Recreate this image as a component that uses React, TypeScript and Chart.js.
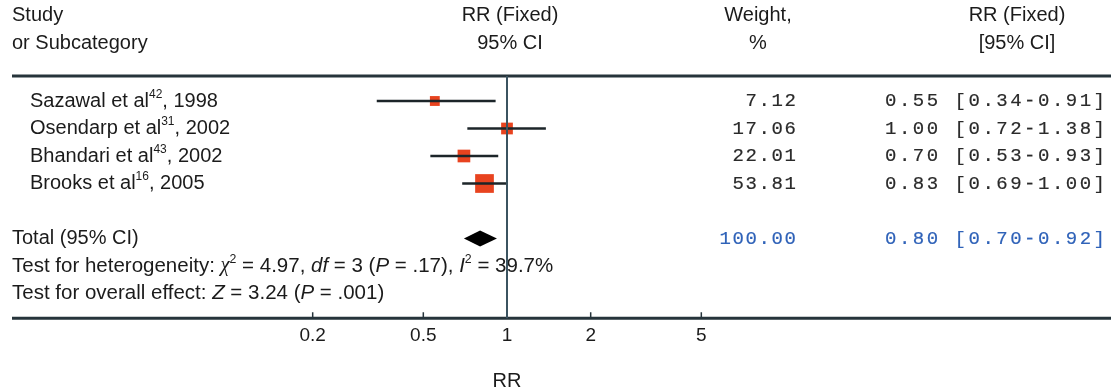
import React, { useEffect, useRef } from 'react';
import { Chart, registerables } from 'chart.js';

Chart.register(...registerables);

// ---- data ----
const studyNames = ['Sazawal et al', 'Osendarp et al', 'Bhandari et al', 'Brooks et al'];
const studyRefs = ['42', '31', '43', '16'];
const studyYears = ['1998', '2002', '2002', '2005'];
const rrValues = [0.55, 1.0, 0.7, 0.83];
const ciLower = [0.34, 0.72, 0.53, 0.69];
const ciUpper = [0.91, 1.38, 0.93, 1.0];
const weights = [7.12, 17.06, 22.01, 53.81];
const totalRR = [0.8];
const totalLower = [0.7];
const totalUpper = [0.92];
const totalWeight = [100.0];
const xTicks = [0.2, 0.5, 1, 2, 5];
const xTickLabels = ['0.2', '0.5', '1', '2', '5'];

// ---- layout (rows in y-scale units) ----
const ROW_TOTAL = 5;
const ROW_HET = 6;
const ROW_OVERALL = 7;
const ROW_AXIS = 7.9;
const ROW_TICKLBL = 8.55;
const ROW_TITLE = 10.2;
const ROW_HEAD1 = -3.1;
const ROW_HEAD2 = -2.08;
const ROW_TOPLINE = -0.91;
const LEFT = 12;

const SANS = '"Liberation Sans", Arial, Helvetica, sans-serif';
const MONO = '"Liberation Mono", "Courier New", monospace';
const TEXT = '#1b1b1b';
const LINE = '#26343b';
const BLUE = '#2f62b8';
const RED = '#e8431f';

type Run = { t: string; it?: boolean; sup?: boolean; fam?: string };

function drawRuns(ctx: CanvasRenderingContext2D, runs: Run[], x: number, y: number, size: number) {
  let cx = x;
  for (const r of runs) {
    const s = r.sup ? size * 0.6 : size;
    ctx.font = `${r.it ? 'italic ' : ''}${s}px ${r.fam || SANS}`;
    const dy = r.sup ? -size * 0.33 : 0;
    ctx.fillText(r.t, cx, y + dy);
    cx += ctx.measureText(r.t).width;
  }
}

function monoRight(ctx: any, text: string, xRight: number, y: number, size: number, ls: number, color: string) {
  ctx.font = `${size}px ${MONO}`;
  ctx.letterSpacing = `${ls}px`;
  ctx.fillStyle = color;
  ctx.strokeStyle = color;
  ctx.lineWidth = 0.2;
  ctx.fillText(text, xRight + ls, y);
  ctx.strokeText(text, xRight + ls, y);
  ctx.letterSpacing = '0px';
}

const forestPlugin = {
  id: 'forestText',
  beforeDatasetsDraw(chart: any) {
    const { ctx, scales } = chart;
    const xs = scales.x;
    const ys = scales.y;
    ctx.save();
    ctx.fillStyle = TEXT;
    ctx.textBaseline = 'middle';
    // headers
    ctx.font = `20px ${SANS}`;
    ctx.textAlign = 'left';
    ctx.fillText('Study', LEFT, ys.getPixelForValue(ROW_HEAD1));
    ctx.fillText('or Subcategory', LEFT, ys.getPixelForValue(ROW_HEAD2));
    ctx.textAlign = 'center';
    ctx.fillText('RR (Fixed)', 510, ys.getPixelForValue(ROW_HEAD1));
    ctx.fillText('95% CI', 510, ys.getPixelForValue(ROW_HEAD2));
    ctx.fillText('Weight,', 758, ys.getPixelForValue(ROW_HEAD1));
    ctx.fillText('%', 758, ys.getPixelForValue(ROW_HEAD2));
    ctx.fillText('RR (Fixed)', 1017, ys.getPixelForValue(ROW_HEAD1));
    ctx.fillText('[95% CI]', 1017, ys.getPixelForValue(ROW_HEAD2));

    // study rows
    ctx.textAlign = 'left';
    studyNames.forEach((n, i) => {
      const y = ys.getPixelForValue(i);
      drawRuns(ctx, [{ t: n }, { t: studyRefs[i], sup: true }, { t: ', ' + studyYears[i] }], 30, y, 20);
    });
    ctx.textAlign = 'right';
    studyNames.forEach((_, i) => {
      const y = ys.getPixelForValue(i);
      monoRight(ctx, weights[i].toFixed(2), 796, y, 19, 1.6, '#2a2a2a');
      monoRight(
        ctx,
        `${rrValues[i].toFixed(2)} [${ciLower[i].toFixed(2)}-${ciUpper[i].toFixed(2)}]`,
        1105,
        y,
        19,
        2.5,
        '#2a2a2a'
      );
    });
    // total
    const yt = ys.getPixelForValue(ROW_TOTAL);
    monoRight(ctx, totalWeight[0].toFixed(2), 796, yt, 19, 1.6, BLUE);
    monoRight(
      ctx,
      `${totalRR[0].toFixed(2)} [${totalLower[0].toFixed(2)}-${totalUpper[0].toFixed(2)}]`,
      1105,
      yt,
      19,
      2.5,
      BLUE
    );
    ctx.fillStyle = TEXT;
    ctx.textAlign = 'left';
    ctx.font = `20px ${SANS}`;
    ctx.fillText('Total (95% CI)', LEFT, yt);
    drawRuns(
      ctx,
      [
        { t: 'Test for heterogeneity: ' },
        { t: 'χ', it: true, fam: '"Liberation Serif", serif' },
        { t: '2', sup: true },
        { t: ' = 4.97, ' },
        { t: 'df', it: true },
        { t: ' = 3 (' },
        { t: 'P', it: true },
        { t: ' = .17), ' },
        { t: 'I', it: true },
        { t: '2', sup: true },
        { t: ' = 39.7%' },
      ],
      LEFT,
      ys.getPixelForValue(ROW_HET),
      20.5
    );
    drawRuns(
      ctx,
      [
        { t: 'Test for overall effect: ' },
        { t: 'Z', it: true },
        { t: ' = 3.24 (' },
        { t: 'P', it: true },
        { t: ' = .001)' },
      ],
      LEFT,
      ys.getPixelForValue(ROW_OVERALL),
      20.5
    );

    // lines
    const yTop = ys.getPixelForValue(ROW_TOPLINE);
    const yAxis = ys.getPixelForValue(ROW_AXIS);
    ctx.strokeStyle = LINE;
    ctx.lineWidth = 3;
    ctx.beginPath();
    ctx.moveTo(LEFT, yTop);
    ctx.lineTo(chart.chartArea.right, yTop);
    ctx.moveTo(LEFT, yAxis);
    ctx.lineTo(chart.chartArea.right, yAxis);
    ctx.stroke();
    ctx.lineWidth = 1.5;
    ctx.beginPath();
    xTicks.forEach((v) => {
      const px = xs.getPixelForValue(v);
      ctx.moveTo(px, yAxis - 6);
      ctx.lineTo(px, yAxis);
    });
    ctx.stroke();
    ctx.fillStyle = TEXT;
    ctx.textAlign = 'center';
    ctx.font = `19px ${SANS}`;
    xTicks.forEach((v, i) => {
      ctx.fillText(xTickLabels[i], xs.getPixelForValue(v), ys.getPixelForValue(ROW_TICKLBL));
    });
    ctx.font = `20px ${SANS}`;
    ctx.fillText('RR', xs.getPixelForValue(1), ys.getPixelForValue(ROW_TITLE));

    // diamond (pooled estimate)
    const yd = yt;
    ctx.fillStyle = '#000';
    ctx.beginPath();
    ctx.moveTo(xs.getPixelForValue(totalLower[0]), yd);
    ctx.lineTo(xs.getPixelForValue(totalRR[0]), yd - 8);
    ctx.lineTo(xs.getPixelForValue(totalUpper[0]), yd);
    ctx.lineTo(xs.getPixelForValue(totalRR[0]), yd + 8);
    ctx.closePath();
    ctx.fill();
    ctx.restore();
  },
  afterDatasetsDraw(chart: any) {
    const { ctx, scales } = chart;
    const xs = scales.x;
    const ys = scales.y;
    ctx.save();
    ctx.strokeStyle = '#3b5360';
    ctx.lineWidth = 2;
    ctx.beginPath();
    const x1 = xs.getPixelForValue(1);
    ctx.moveTo(x1, ys.getPixelForValue(ROW_TOPLINE));
    ctx.lineTo(x1, ys.getPixelForValue(ROW_AXIS));
    ctx.stroke();
    ctx.restore();
  },
};

export default function App() {
  const ref = useRef<HTMLCanvasElement | null>(null);
  useEffect(() => {
    if (!ref.current) return;
    const whiskers = studyNames.map((_, i) => ({
      type: 'line' as const,
      data: [
        { x: ciLower[i], y: i },
        { x: ciUpper[i], y: i },
      ],
      borderColor: '#1c2529',
      borderWidth: 2.5,
      pointRadius: 0,
      showLine: true,
      fill: false,
      order: 0,
    }));
    const squares = {
      type: 'scatter' as const,
      data: rrValues.map((v, i) => ({ x: v, y: i })),
      pointStyle: 'rect',
      pointRadius: weights.map((w) => (8.5 + 0.19 * w) / Math.SQRT2),
      backgroundColor: RED,
      borderWidth: 0,
      order: 1,
    };
    const chart = new Chart(ref.current, {
      type: 'scatter',
      data: { datasets: [squares as any, ...whiskers] },
      options: {
        animation: false,
        responsive: false,
        maintainAspectRatio: false,
        layout: { padding: 0, autoPadding: false },
        plugins: { legend: { display: false }, tooltip: { enabled: false } },
        scales: {
          x: {
            type: 'logarithmic',
            display: false,
            min: Math.pow(10, -507 / 278),
            max: Math.pow(10, (1111 - 507) / 278),
          },
          y: {
            type: 'linear',
            display: false,
            reverse: true,
            min: -101 / 27.5,
            max: (392 - 101) / 27.5,
          },
        },
      },
      plugins: [forestPlugin],
    });
    return () => chart.destroy();
  }, []);
  return (
    <div style={{ position: 'absolute', left: 0, top: 0, width: 1111, height: 392, background: '#fff' }}>
      <canvas ref={ref} width={1111} height={392} style={{ display: 'block' }} />
    </div>
  );
}
